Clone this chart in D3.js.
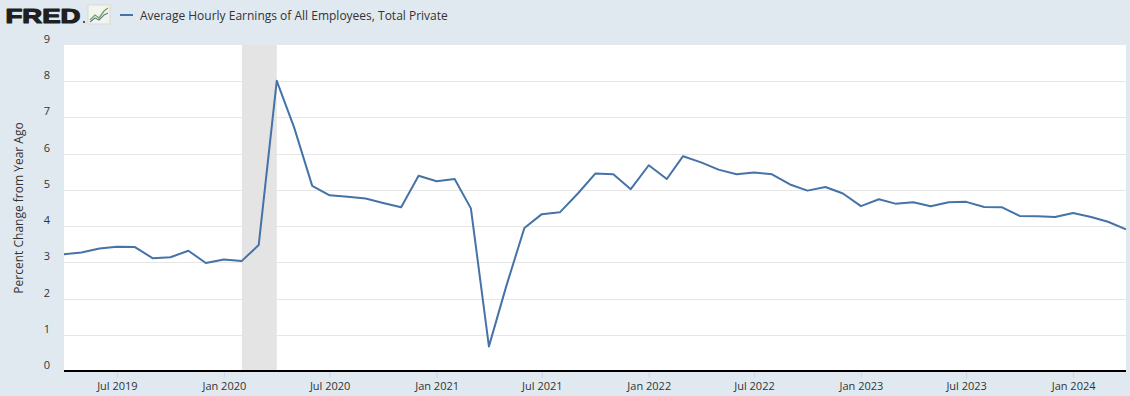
<!DOCTYPE html>
<html>
<head>
<meta charset="utf-8">
<script src="https://cdn.jsdelivr.net/npm/d3@7"></script>
<style>
  body { margin: 0; background: #e1e9f0; }
  svg { display: block; font-family: "Open Sans", sans-serif; }
</style>
</head>
<body>
<div id="chart"></div>
<script>
// chart size
var width = 1130;
var height = 396;
var margin = {top: 45, right: 4, bottom: 25, left: 64};

// series: percent change from year ago, monthly from Apr 2019
var startMonth = "2019-04-01";
var values = [
  3.22, 3.27, 3.38, 3.43, 3.42, 3.11, 3.14, 3.32, 2.98,
  3.08, 3.04, 3.48, 8.01, 6.72, 5.11, 4.85, 4.81, 4.76, 4.64, 4.52, 5.39,
  5.24, 5.30, 4.49, 0.68, 2.35, 3.95, 4.33, 4.38, 4.90, 5.45, 5.43, 5.02,
  5.68, 5.30, 5.93, 5.76, 5.56, 5.43, 5.48, 5.43, 5.15, 4.98, 5.08, 4.90,
  4.55, 4.74, 4.62, 4.66, 4.55, 4.66, 4.67, 4.53, 4.52, 4.28, 4.27, 4.25,
  4.36, 4.25, 4.12, 3.91
];
var recession = ["2020-02-01", "2020-04-01"];
var xTicks = ["2019-07-01", "2020-01-01", "2020-07-01", "2021-01-01", "2021-07-01",
              "2022-01-01", "2022-07-01", "2023-01-01", "2023-07-01", "2024-01-01"];
var yTicks = [0, 1, 2, 3, 4, 5, 6, 7, 8, 9];
var seriesName = "Average Hourly Earnings of All Employees, Total Private";
var yTitle = "Percent Change from Year Ago";

var parse = d3.timeParse("%Y-%m-%d");
var start = parse(startMonth);
var data = values.map((v, i) => ({date: d3.timeMonth.offset(start, i), value: v}));

var x = d3.scaleTime()
  .domain(d3.extent(data, d => d.date))
  .range([margin.left, width - margin.right]);

var y = d3.scaleLinear()
  .domain([0, 9])
  .range([height - margin.bottom, margin.top]);

const svg = d3.select("#chart").append("svg")
  .attr("width", width)
  .attr("height", height);

svg.append("rect")
  .attr("width", width).attr("height", height)
  .attr("fill", "#e1e9f0");

// plot area
svg.append("rect")
  .attr("x", margin.left).attr("y", margin.top)
  .attr("width", width - margin.left - margin.right)
  .attr("height", height - margin.top - margin.bottom)
  .attr("fill", "#ffffff");

// grid lines
svg.append("g")
  .selectAll("line")
  .data(yTicks.filter(d => d > 0 && d < 9))
  .enter().append("line")
  .attr("x1", margin.left).attr("x2", width - margin.right)
  .attr("y1", d => Math.round(y(d)) + 0.5).attr("y2", d => Math.round(y(d)) + 0.5)
  .attr("stroke", "#e6e6e6");

// recession shading
svg.append("rect")
  .attr("x", x(parse(recession[0])))
  .attr("y", margin.top)
  .attr("width", x(parse(recession[1])) - x(parse(recession[0])))
  .attr("height", height - margin.top - margin.bottom)
  .attr("fill", "#e4e4e4");

// y labels
svg.append("g")
  .selectAll("text")
  .data(yTicks)
  .enter().append("text")
  .attr("x", 50)
  .attr("y", d => y(d) - 2)
  .attr("text-anchor", "end")
  .attr("font-size", 11)
  .attr("fill", "#333333")
  .text(d => d);

svg.append("text")
  .attr("transform", "translate(23," + y(4.5) + ") rotate(-90)")
  .attr("text-anchor", "middle")
  .attr("font-size", 12)
  .attr("fill", "#333333")
  .text(yTitle);

// x axis
var xAxis = d3.axisBottom(x)
  .tickValues(xTicks.map(parse))
  .tickFormat(d3.timeFormat("%b %Y"))
  .tickSize(7)
  .tickPadding(4);

var gx = svg.append("g")
  .attr("transform", "translate(0," + (height - margin.bottom) + ")")
  .call(xAxis);
gx.select(".domain").remove();
gx.selectAll(".tick line").attr("stroke", "#ccd6eb");
gx.selectAll(".tick text")
  .attr("font-family", "Open Sans, sans-serif")
  .attr("font-size", 11)
  .attr("fill", "#333333");

svg.append("line")
  .attr("x1", margin.left).attr("x2", width - margin.right)
  .attr("y1", y(0)).attr("y2", y(0))
  .attr("stroke", "#000000")
  .attr("stroke-width", 2);

// series line
const line = d3.line()
  .x(d => x(d.date))
  .y(d => y(d.value));

svg.append("path")
  .datum(data)
  .attr("d", line)
  .attr("fill", "none")
  .attr("stroke", "#4572a7")
  .attr("stroke-width", 2)
  .attr("stroke-linejoin", "round");

// header: FRED logo and legend
svg.append("text")
  .attr("x", 5.5).attr("y", 23)
  .attr("font-family", "Liberation Sans, Arial, sans-serif")
  .attr("font-weight", "bold")
  .attr("font-size", 21)
  .attr("fill", "#1f1f1f")
  .attr("stroke", "#1f1f1f")
  .attr("stroke-width", 1.2)
  .attr("stroke-linejoin", "round")
  .attr("textLength", 75)
  .attr("lengthAdjust", "spacingAndGlyphs")
  .text("FRED");
svg.append("circle").attr("cx", 84).attr("cy", 22).attr("r", 1).attr("fill", "#1f1f1f");

var icon = svg.append("g").attr("transform", "translate(88,5)");
icon.append("rect").attr("width", 22).attr("height", 19).attr("fill", "#f2f4ef").attr("stroke", "#d8dccf");
icon.append("polyline").attr("points", "2,15 7,10 11,13 16,6 20,3")
  .attr("fill", "none").attr("stroke", "#7aa343").attr("stroke-width", 1.3);
icon.append("polyline").attr("points", "2,17 7,13 11,15 16,10 20,8")
  .attr("fill", "none").attr("stroke", "#5b7fb0").attr("stroke-width", 1.1);

svg.append("line")
  .attr("x1", 120).attr("x2", 133).attr("y1", 15).attr("y2", 15)
  .attr("stroke", "#4572a7").attr("stroke-width", 2);
svg.append("text")
  .attr("x", 140).attr("y", 19.5)
  .attr("font-size", 12)
  .attr("fill", "#333333")
  .text(seriesName);
</script>
</body>
</html>
